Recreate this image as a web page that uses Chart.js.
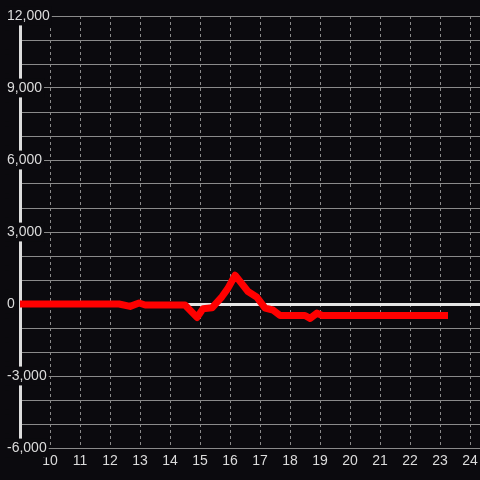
<!DOCTYPE html>
<html>
<head>
<meta charset="utf-8">
<script src="https://cdn.jsdelivr.net/npm/chart.js@4"></script>
<style>
  html, body { margin: 0; padding: 0; background: #0b0a0e; }
  canvas { display: block; }
</style>
</head>
<body>
<canvas id="chart" width="480" height="480"></canvas>
<script>
// data
const hours = [9, 12.3, 12.67, 12.97, 13.17, 14.5, 14.9, 15.1, 15.4, 15.73, 15.93, 16.17, 16.6, 16.9, 17.17, 17.43, 17.67, 18.5, 18.67, 18.9, 19.07, 23.15];
const values = [0, 0, -100, 40, -40, -40, -560, -200, -160, 300, 650, 1200, 520, 280, -170, -250, -480, -480, -600, -380, -480, -480];

// axes
const xTicks = [10, 11, 12, 13, 14, 15, 16, 17, 18, 19, 20, 21, 22, 23, 24];
const yTicks = [-6000, -5000, -4000, -3000, -2000, -1000, 0, 1000, 2000, 3000, 4000, 5000, 6000, 7000, 8000, 9000, 10000, 11000, 12000];
const yLabelStep = 3000;

const bg = '#0b0a0e';
const textColor = '#dcdcdc';
const gridColor = '#8a8a8a';

function noPadding(scale) {
    scale.paddingLeft = 0;
    scale.paddingRight = 0;
    scale.paddingTop = 0;
    scale.paddingBottom = 0;
}

const ctx = document.getElementById('chart').getContext('2d');
new Chart(ctx, {
    type: 'line',
    data: {
        datasets: [{
            data: hours.map((h, i) => ({ x: h, y: values[i] })),
            borderColor: '#ff0000',
            borderWidth: 7,
            borderJoinStyle: 'round',
            borderCapStyle: 'square',
            pointRadius: 0,
            tension: 0,
            fill: false
        }]
    },
    options: {
        responsive: false,
        animation: false,
        layout: { padding: { top: 16, left: 0, right: 0, bottom: 0 } },
        plugins: {
            legend: { display: false },
            tooltip: { enabled: false }
        },
        scales: {
            x: {
                type: 'linear',
                min: 9,
                max: 24.3333,
                afterBuildTicks: scale => { scale.ticks = xTicks.map(v => ({ value: v })); },
                afterFit: scale => { scale.height = 32; noPadding(scale); },
                grid: { color: gridColor, lineWidth: 1, drawTicks: false },
                border: { color: gridColor, width: 1, dash: [3, 3] },
                ticks: {
                    color: textColor,
                    padding: 5,
                    maxRotation: 0,
                    autoSkip: false,
                    font: { family: 'Liberation Sans, Arial, sans-serif', size: 14 }
                }
            },
            y: {
                type: 'linear',
                position: 'left',
                min: -6000,
                max: 12000,
                afterBuildTicks: scale => { scale.ticks = yTicks.map(v => ({ value: v })); },
                afterFit: scale => { scale.width = 20; noPadding(scale); },
                grid: {
                    drawTicks: false,
                    color: c => c.tick && c.tick.value === 0 ? '#e6e6e6' : gridColor,
                    lineWidth: c => c.tick && c.tick.value === 0 ? 3 : 1
                },
                border: { color: '#dddddd', width: 3 },
                ticks: {
                    mirror: true,
                    crossAlign: 'near',
                    padding: -13,
                    autoSkip: false,
                    color: textColor,
                    showLabelBackdrop: true,
                    backdropColor: bg,
                    backdropPadding: { top: 1, bottom: 1, left: 2, right: 2 },
                    font: { family: 'Liberation Sans, Arial, sans-serif', size: 14 },
                    callback: v => v % yLabelStep === 0 ? v.toLocaleString('en-US') : ''
                }
            }
        }
    }
});
</script>
</body>
</html>
